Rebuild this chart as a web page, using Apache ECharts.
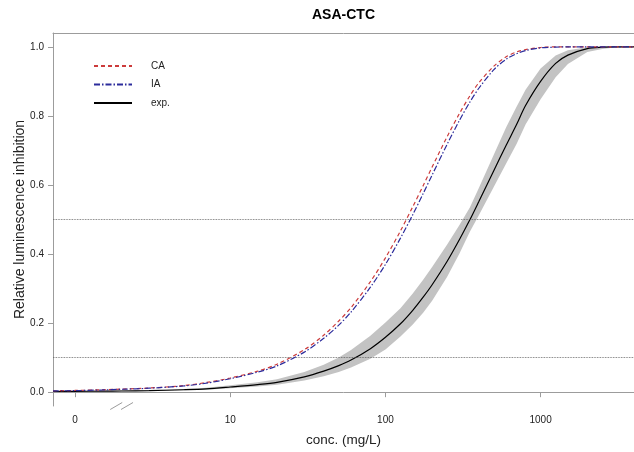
<!DOCTYPE html>
<html>
<head>
<meta charset="utf-8">
<script src="https://cdn.jsdelivr.net/npm/echarts@6/dist/echarts.min.js"></script>
<style>
  html, body { margin: 0; padding: 0; background: #fff; }
  #chart { width: 634px; height: 452px; }
</style>
</head>
<body>
<div id="chart"></div>
<script>
// Concentration grid (mg/L) and the mixture response curves
const concentrations = [0.72, 1, 1.5, 2, 3, 5, 7, 10, 15, 20, 30, 40, 50, 60, 80, 100, 125, 150, 175, 200,
  250, 300, 350, 400, 500, 600, 700, 800, 1000, 1250, 1500, 2000, 2500, 3000, 4000];

// Concentration addition prediction
const caInhibition = [0.004, 0.005, 0.007, 0.009, 0.012, 0.019, 0.028, 0.041, 0.061, 0.081, 0.123, 0.165, 0.206, 0.245, 0.320, 0.389, 0.467, 0.537, 0.598, 0.652,
  0.740, 0.807, 0.858, 0.896, 0.944, 0.971, 0.985, 0.992, 0.998, 1.000, 1.000, 1.000, 1.000, 1.000, 1.000];

// Independent action prediction
const iaInhibition = [0.004, 0.0045, 0.0065, 0.0085, 0.0115, 0.018, 0.026, 0.039, 0.058, 0.076, 0.116, 0.156, 0.194, 0.232, 0.304, 0.370, 0.446, 0.514, 0.575, 0.629,
  0.718, 0.787, 0.840, 0.880, 0.934, 0.964, 0.980, 0.989, 0.997, 0.999, 1.000, 1.000, 1.000, 1.000, 1.000];

// Experimental fit with its confidence band
const expInhibition = [0.002, 0.0025, 0.003, 0.0035, 0.0045, 0.007, 0.0095, 0.015, 0.022, 0.0286, 0.0445, 0.061, 0.077, 0.093, 0.126, 0.159, 0.198, 0.237, 0.275, 0.311,
  0.379, 0.442, 0.499, 0.552, 0.642, 0.715, 0.775, 0.830, 0.900, 0.952, 0.976, 0.995, 0.999, 1.000, 1.000];
const expLower = [0.0015, 0.0019, 0.0023, 0.0026, 0.0034, 0.0053, 0.0072, 0.0113, 0.0166, 0.0217, 0.0338, 0.0462, 0.0587, 0.0714, 0.0969, 0.1237, 0.1612, 0.1957, 0.2303, 0.2646,
  0.3342, 0.4014, 0.4646, 0.5125, 0.5949, 0.6618, 0.7189, 0.775, 0.848, 0.912, 0.950, 0.985, 0.994, 0.998, 0.9995];
const expUpper = [0.0026, 0.0033, 0.004, 0.0046, 0.006, 0.0093, 0.0126, 0.0198, 0.029, 0.0377, 0.0585, 0.0796, 0.1007, 0.1218, 0.1636, 0.2021, 0.2428, 0.2857, 0.3252, 0.3628,
  0.4275, 0.4843, 0.535, 0.5913, 0.6884, 0.7668, 0.8261, 0.876, 0.937, 0.975, 0.990, 0.999, 1.000, 1.000, 1.000];

// Axis ticks; the control (0 mg/L) is shown at the position of 1 mg/L
const xTickConc = [1, 10, 100, 1000];
const xTickLabels = ['0', '10', '100', '1000'];
const xRange = [0.72, 4000];
const yTicks = [0, 0.2, 0.4, 0.6, 0.8, 1.0];
const yRange = [-0.04, 1.04];
const refLevels = [0.5, 0.1];
const axisBreakConc = [1.84, 2.16];

const FONT = 'Liberation Sans, Arial, Helvetica, sans-serif';
const BOX = '#9c9c9c';

const lg = c => Math.log10(c);
const pairs = arr => concentrations.map((c, i) => [lg(c), arr[i]]);
const xTickPos = xTickConc.map(lg);
const bandRows = concentrations.map((c, i) => [lg(c), expLower[i], expUpper[i]]);

const chart = echarts.init(document.getElementById('chart'), null, { renderer: 'canvas' });

const grid = { left: 53, top: 33, right: 0, bottom: 46, outerBoundsMode: 'none', containLabel: false };

// Confidence band: one closed polygon, upper edge forward then lower edge back
function renderBand(params, api) {
  if (params.dataIndex !== 0) return null;
  const upper = bandRows.map(r => api.coord([r[0], r[2]]));
  const lower = bandRows.map(r => api.coord([r[0], r[1]])).reverse();
  return {
    type: 'polygon',
    shape: { points: upper.concat(lower) },
    style: { fill: '#c3c3c3', stroke: null },
    silent: true
  };
}

const option = {
  animation: false,
  backgroundColor: '#fff',
  grid: grid,
  legend: {
    orient: 'vertical', left: 88, top: 55,
    itemWidth: 38, itemHeight: 12, itemGap: 6.5,
    data: ['CA', 'IA', 'exp.'],
    itemStyle: { opacity: 0 },
    textStyle: { fontSize: 10, color: '#222', fontFamily: FONT, padding: [0, 0, 0, 14], lineHeight: 12 }
  },
  xAxis: [{
    type: 'value', position: 'bottom',
    min: lg(xRange[0]), max: lg(xRange[1]),
    name: 'conc. (mg/L)', nameLocation: 'middle', nameGap: 27, nameMoveOverlap: false,
    nameTextStyle: { fontSize: 13.5, color: '#222', fontFamily: FONT },
    axisLine: { show: true, lineStyle: { color: BOX, width: 1 } },
    axisTick: { show: true, customValues: xTickPos, length: 5, lineStyle: { color: BOX } },
    axisLabel: {
      show: true, customValues: xTickPos, margin: 9, fontSize: 10, color: '#222', fontFamily: FONT,
      formatter: v => {
        let best = 0;
        xTickPos.forEach((p, i) => { if (Math.abs(p - v) < Math.abs(xTickPos[best] - v)) best = i; });
        return xTickLabels[best];
      }
    },
    splitLine: { show: false }
  }, {
    type: 'value', position: 'top',
    min: lg(xRange[0]), max: lg(xRange[1]),
    axisLine: { show: true, onZero: false, lineStyle: { color: BOX, width: 1 } },
    axisTick: { show: false }, axisLabel: { show: false }, splitLine: { show: false }
  }],
  yAxis: {
    type: 'value', min: yRange[0], max: yRange[1],
    name: 'Relative luminescence inhibition', nameLocation: 'middle', nameGap: 26, nameRotate: 90,
    nameMoveOverlap: false,
    nameTextStyle: { fontSize: 14, color: '#222', fontFamily: FONT },
    axisLine: { show: true, onZero: false, lineStyle: { color: BOX, width: 1 } },
    axisTick: { show: true, customValues: yTicks, length: 5, lineStyle: { color: BOX } },
    axisLabel: {
      show: true, customValues: yTicks, margin: 9, fontSize: 10, color: '#222', fontFamily: FONT,
      formatter: v => v.toFixed(1)
    },
    splitLine: { show: false }
  },
  series: [
    {
      name: 'band', type: 'custom', data: bandRows,
      encode: { x: 0, y: [1, 2] },
      renderItem: renderBand, silent: true, z: 1
    },
    {
      name: 'exp.', type: 'line', data: pairs(expInhibition), symbol: 'none', smooth: 0.3,
      color: '#000', lineStyle: { color: '#000', width: 1.2, type: 'solid' }, z: 3,
      markLine: {
        silent: true, symbol: 'none', label: { show: false },
        lineStyle: { color: '#555', width: 0.8, type: 'dotted' },
        data: refLevels.map(v => ({ yAxis: v }))
      }
    },
    {
      name: 'CA', type: 'line', data: pairs(caInhibition), symbol: 'none', smooth: 0.3,
      color: '#cc3b3b', lineStyle: { color: '#cc3b3b', width: 1.2, type: [4, 3] }, z: 4
    },
    {
      name: 'IA', type: 'line', data: pairs(iaInhibition), symbol: 'none', smooth: 0.3,
      color: '#2c2c9c', lineStyle: { color: '#2c2c9c', width: 1.2, type: [6, 2, 1.5, 2] }, z: 5
    }
  ]
};

chart.setOption(option);

// Title centred over the plot area, and the axis-break slashes on the x axis
const plotCenter = (grid.left + chart.getWidth() - grid.right) / 2;
const breakMarks = axisBreakConc.map(c => {
  const p = chart.convertToPixel({ gridIndex: 0 }, [lg(c), yRange[0]]);
  return {
    type: 'line', silent: true, z: 10,
    shape: { x1: p[0] - 6, y1: p[1] + 3.5, x2: p[0] + 6, y2: p[1] - 3.5 },
    style: { stroke: BOX, lineWidth: 1 }
  };
});
chart.setOption({
  graphic: [{
    type: 'text', x: plotCenter, y: 15,
    style: { text: 'ASA-CTC', fill: '#000', font: 'bold 14px ' + FONT, textAlign: 'center', textVerticalAlign: 'middle' }
  }].concat(breakMarks)
});
</script>
</body>
</html>
